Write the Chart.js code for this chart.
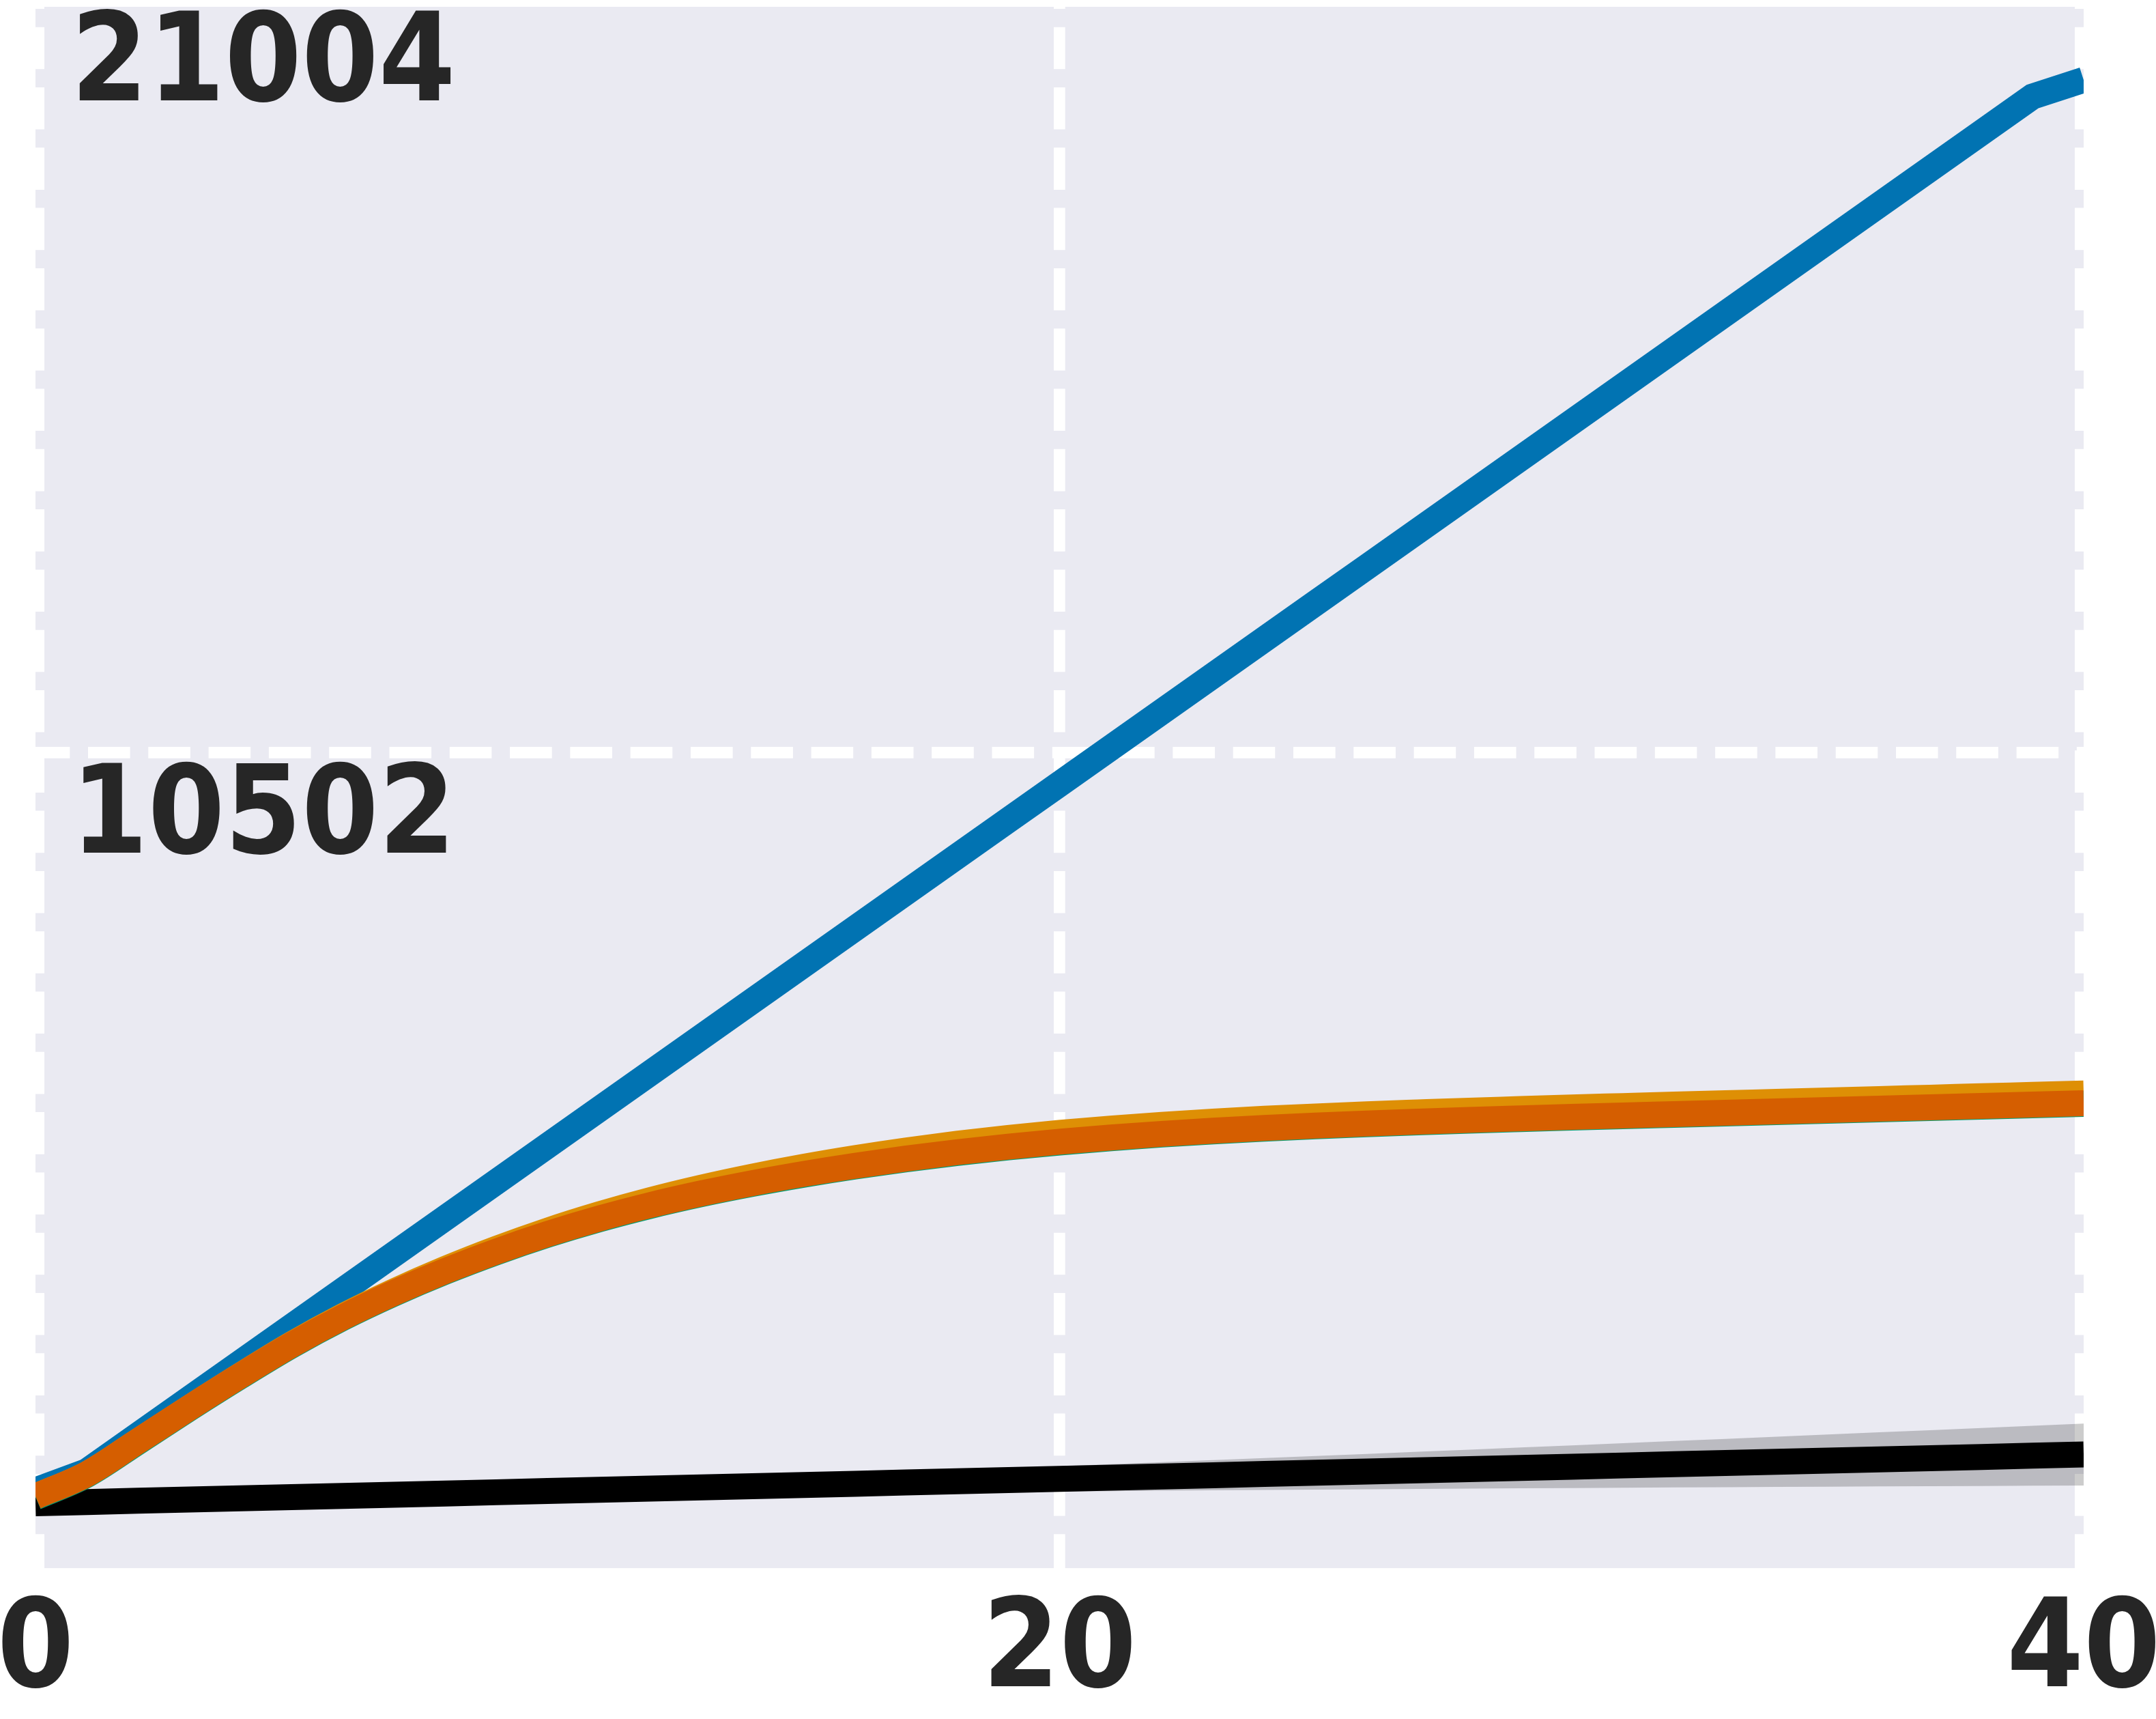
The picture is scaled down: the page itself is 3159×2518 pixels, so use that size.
<!DOCTYPE html>
<html>
<head>
<meta charset="utf-8">
<script src="https://cdn.jsdelivr.net/npm/chart.js@4.4.1/dist/chart.umd.min.js"></script>
<style>
  html, body { margin: 0; padding: 0; background: #ffffff; }
  canvas { display: block; }
</style>
</head>
<body>
<canvas id="chart" width="3159" height="2518"></canvas>
<script>
// x positions 0..40
const xValues = [0, 1, 2, 3, 4, 5, 6, 7, 8, 9, 10, 11, 12, 13, 14, 15, 16, 17, 18, 19, 20,
    21, 22, 23, 24, 25, 26, 27, 28, 29, 30, 31, 32, 33, 34, 35, 36, 37, 38, 39, 40];

// series
const blueSeries = [205, 470, 975, 1480, 1985, 2490, 2995, 3500, 4005, 4510, 5015, 5520, 6025, 6530,
    7035, 7540, 8045, 8550, 9055, 9560, 10065, 10570, 11075, 11580, 12085, 12590, 13095, 13600,
    14105, 14610, 15115, 15620, 16125, 16630, 17135, 17640, 18145, 18650, 19155, 19660, 19892];

const orangeSeries = [120, 430, 890, 1355, 1808, 2243, 2634, 2981, 3294, 3576, 3830, 4055, 4254, 4429,
    4583, 4720, 4841, 4948, 5042, 5123, 5194, 5255, 5307, 5352, 5391, 5424, 5454, 5480, 5505, 5527,
    5549, 5569, 5589, 5608, 5628, 5647, 5667, 5686, 5706, 5725, 5744];

const greenSeries = [110, 420, 880, 1345, 1795, 2225, 2610, 2950, 3255, 3528, 3772, 3987, 4175, 4339,
    4483, 4611, 4725, 4826, 4915, 4993, 5061, 5120, 5171, 5215, 5253, 5286, 5315, 5341, 5365, 5387,
    5408, 5428, 5447, 5466, 5485, 5504, 5523, 5542, 5561, 5580, 5599];

const vermilionSeries = [120, 430, 890, 1355, 1805, 2235, 2620, 2960, 3265, 3538, 3782, 3997, 4185, 4349,
    4493, 4621, 4735, 4836, 4925, 5003, 5071, 5130, 5181, 5225, 5263, 5296, 5325, 5351, 5375, 5397,
    5418, 5438, 5457, 5476, 5495, 5514, 5533, 5552, 5571, 5590, 5609];

const blackSeries = [25, 42, 59, 76, 93, 110, 127, 144, 161, 178, 195, 212, 229, 246, 263, 280, 297,
    314, 331, 348, 365, 382, 399, 416, 433, 450, 467, 484, 501, 518, 535, 552, 569, 586, 603, 620,
    637, 654, 671, 688, 705];

const bandUpper = [25, 46, 68, 91, 115, 139, 164, 189, 214, 240, 266, 293, 320, 347, 374, 401, 429,
    457, 485, 513, 541, 570, 598, 627, 656, 685, 714, 744, 773, 803, 833, 863, 893, 923, 954, 984,
    1015, 1045, 1076, 1107, 1138];

const bandLower = [25, 38, 50, 61, 71, 81, 90, 99, 108, 116, 124, 131, 138, 145, 152, 159, 165, 171,
    177, 183, 189, 194, 200, 205, 210, 215, 220, 224, 229, 233, 237, 241, 245, 249, 252, 256, 259,
    263, 266, 269, 272];

const xTicks = [0, 20, 40];
const yTicks = [10502, 21004];

function points(values) {
    return values.map((v, i) => ({ x: xValues[i], y: v }));
}

// grey plot background, drawn before the grid
const plotBackground = {
    id: 'plotBackground',
    beforeDraw(chart) {
        const { ctx, chartArea } = chart;
        ctx.save();
        ctx.fillStyle = '#eaeaf2';
        ctx.fillRect(chartArea.left, chartArea.top,
            chartArea.right - chartArea.left, chartArea.bottom - chartArea.top);
        ctx.restore();
    }
};

const tickFont = {
    family: "'DejaVu Sans Condensed', 'DejaVu Sans', sans-serif",
    weight: 'bold',
    size: 180
};

const lineStyle = {
    borderWidth: 38,
    pointRadius: 0,
    tension: 0,
    fill: false,
    borderJoinStyle: 'miter',
    borderCapStyle: 'butt'
};

// the saturating curves are smooth in the picture
const curveStyle = { ...lineStyle, cubicInterpolationMode: 'monotone' };

const ctx = document.getElementById('chart').getContext('2d');
new Chart(ctx, {
    type: 'line',
    data: {
        datasets: [
            { data: points(bandLower), borderColor: 'transparent', borderWidth: 0, pointRadius: 0, fill: false, order: 6 },
            { data: points(bandUpper), borderColor: 'transparent', borderWidth: 0, pointRadius: 0,
              fill: '-1', backgroundColor: 'rgba(0, 0, 0, 0.2)', order: 5 },
            { data: points(blackSeries), borderColor: '#000000', order: 4, ...lineStyle },
            { data: points(blueSeries), borderColor: '#0173b2', order: 3, ...lineStyle },
            { data: points(orangeSeries), borderColor: '#de8f05', order: 2, ...curveStyle },
            { data: points(greenSeries), borderColor: '#029e73', order: 1, ...curveStyle },
            { data: points(vermilionSeries), borderColor: '#d55e00', order: 0, ...curveStyle }
        ]
    },
    options: {
        responsive: false,
        animation: false,
        devicePixelRatio: 1,
        layout: { padding: { left: 52, right: 106, top: 10, bottom: 0 } },
        plugins: {
            legend: { display: false },
            tooltip: { enabled: false }
        },
        scales: {
            x: {
                type: 'linear',
                min: 0,
                max: 40,
                afterBuildTicks: (scale) => { scale.ticks = xTicks.map(v => ({ value: v })); },
                afterFit: (scale) => { scale.height = 221; scale.paddingLeft = 0; scale.paddingRight = 0; },
                border: { display: false, dash: [61.6, 26.7], dashOffset: 58.6 },
                grid: {
                    color: '#ffffff',
                    lineWidth: (c) => (c.tick && (c.tick.value === 0 || c.tick.value === 40)) ? 26 : 16.7,
                    drawTicks: false
                },
                ticks: {
                    autoSkip: false,
                    maxRotation: 0,
                    padding: 18,
                    color: '#262626',
                    font: tickFont,
                    callback: (value) => String(value)
                }
            },
            y: {
                type: 'linear',
                min: -881,
                max: 20913,
                afterBuildTicks: (scale) => { scale.ticks = yTicks.map(v => ({ value: v })); },
                afterFit: (scale) => { scale.width = 0; scale.paddingTop = 0; scale.paddingBottom = 0; },
                border: { display: false, dash: [61.6, 26.7], dashOffset: 11.3 },
                grid: {
                    color: (c) => (c.tick && c.tick.value === 21004) ? 'rgba(0,0,0,0)' : '#ffffff',
                    lineWidth: 16.7,
                    drawTicks: false
                },
                ticks: {
                    autoSkip: false,
                    mirror: true,
                    padding: 52,
                    labelOffset: 100,
                    color: '#262626',
                    font: tickFont,
                    callback: (value) => String(value)
                }
            }
        }
    },
    plugins: [plotBackground]
});
</script>
</body>
</html>
